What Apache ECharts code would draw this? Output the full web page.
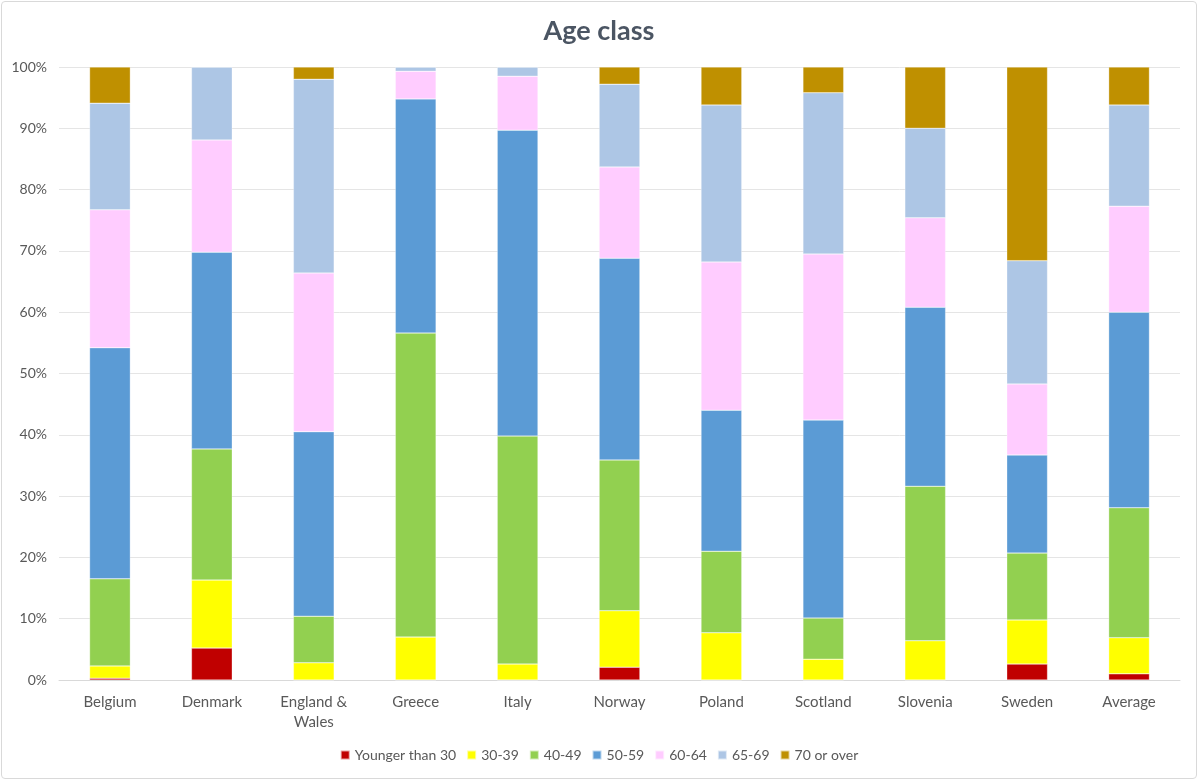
<!DOCTYPE html>
<html><head><meta charset="utf-8">
<script src="https://cdn.jsdelivr.net/npm/echarts@6/dist/echarts.min.js"></script>
<style>html,body{margin:0;padding:0;background:#fff}#c{width:1198px;height:780px}</style>
</head><body><div id="c"></div>
<script>
const categories = ['Belgium','Denmark','England &\nWales','Greece','Italy','Norway','Poland','Scotland','Slovenia','Sweden','Average'];
const seriesNames = ['Younger than 30','30-39','40-49','50-59','60-64','65-69','70 or over'];
const under30 = [0.3, 5.2, 0, 0, 0, 2.1, 0, 0, 0, 2.6, 1.0];
const age30_39 = [2.0, 11.1, 2.8, 7.0, 2.6, 9.2, 7.7, 3.4, 6.4, 7.2, 5.9];
const age40_49 = [14.2, 21.4, 7.6, 49.6, 37.2, 24.6, 13.3, 6.7, 25.2, 10.9, 21.2];
const age50_59 = [37.7, 32.1, 30.1, 38.2, 49.9, 32.9, 23.0, 32.3, 29.2, 16.0, 31.9];
const age60_64 = [22.5, 18.3, 25.9, 4.5, 8.8, 14.9, 24.2, 27.1, 14.6, 11.6, 17.3];
const age65_69 = [17.4, 11.9, 31.6, 0.7, 1.5, 13.5, 25.6, 26.3, 14.6, 20.1, 16.5];
const age70plus = [5.9, 0, 2.0, 0, 0, 2.8, 6.2, 4.2, 10.0, 31.6, 6.2];
const yTicks = [0,10,20,30,40,50,60,70,80,90,100];

const colors = ['#C00000','#FFFF00','#92D050','#5B9BD5','#FFCCFF','#ADC6E5','#BF9000'];
const dataSets = [under30, age30_39, age40_49, age50_59, age60_64, age65_69, age70plus];
const font = 'Lato, "Open Sans", sans-serif';

const chart = echarts.init(document.getElementById('c'));
chart.setOption({
  backgroundColor: '#fff',
  animation: false,
  title: { text: 'Age class', left: 'center', top: 13,
    textStyle: { fontFamily: font, fontSize: 27, fontWeight: 'bold', color: '#4B5563' } },
  grid: { left: 59, right: 18, top: 67, bottom: 100 },
  legend: { bottom: 13, left: 'center', itemWidth: 9, itemHeight: 9, itemGap: 10,
    icon: 'rect', textStyle: { fontFamily: font, fontSize: 14, color: '#595959' },
    data: seriesNames },
  xAxis: { type: 'category', data: categories,
    axisLine: { lineStyle: { color: '#D9D9D9' } }, axisTick: { show: false },
    axisLabel: { fontFamily: font, fontSize: 15, color: '#595959', margin: 12, lineHeight: 20 } },
  yAxis: { type: 'value', min: 0, max: 100, interval: 10,
    axisLine: { show: false }, axisTick: { show: false },
    splitLine: { lineStyle: { color: '#E5E5E5' } },
    axisLabel: { fontFamily: font, fontSize: 14, color: '#595959', margin: 12,
      formatter: v => yTicks.includes(v) ? v + '%' : '' } },
  series: seriesNames.map((n, i) => ({
    name: n, type: 'bar', stack: 'total', barWidth: '40%',
    data: dataSets[i],
    itemStyle: { color: colors[i], borderColor: 'rgba(255,255,255,0.6)', borderWidth: 0.5 }
  }))
});
</script>
<div style="position:absolute;left:1px;top:1px;width:1194px;height:776px;border:1px solid #D9D9D9;border-radius:4px;pointer-events:none"></div>
</body></html>
